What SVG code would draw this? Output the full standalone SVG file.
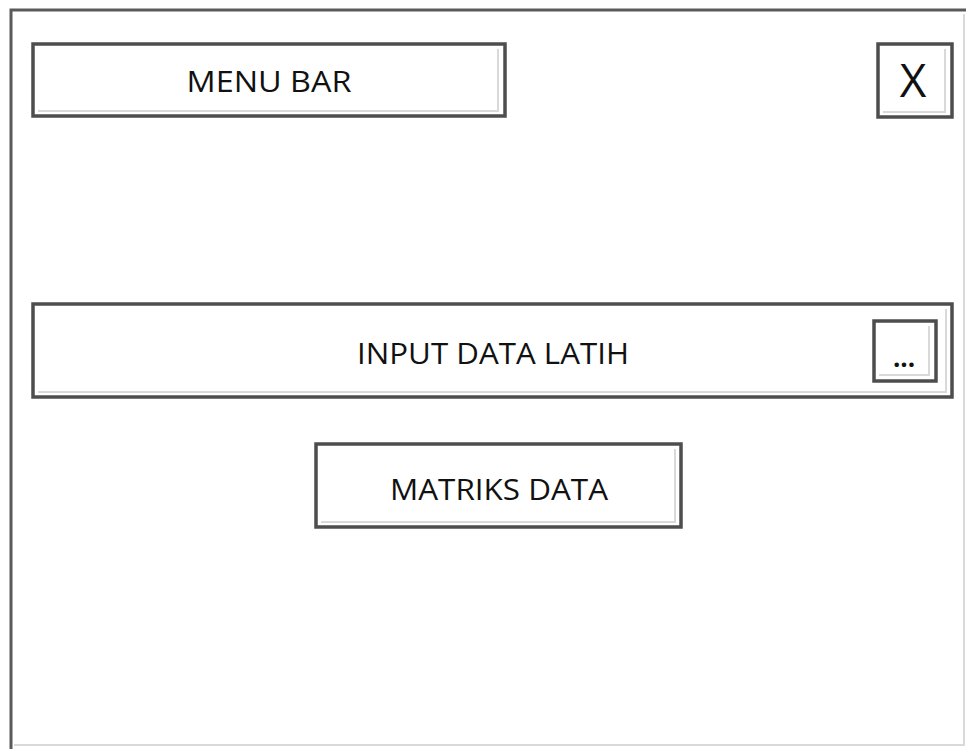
<svg xmlns="http://www.w3.org/2000/svg" width="966" height="749" viewBox="0 0 966 749">
<style>
.box{fill:#ffffff;stroke:#4d4d4d;stroke-width:3.5}
.bev{stroke:#d9d9d9;stroke-width:2;fill:none}
.lbl{font-family:"Open Sans","Liberation Sans",sans-serif;font-size:29px;fill:#111;text-anchor:middle}
</style>
<rect width="966" height="749" fill="#ffffff"/>
<g id="frame">
<path d="M11 749 V10 H966" fill="none" stroke="#5a5a5a" stroke-width="3"/>
<path d="M964 14 V745 H14" class="bev"/>
</g>
<g id="menu-bar">
<rect class="box" x="33" y="44" width="472" height="72"/>
<path class="bev" d="M498 49 V111 H38"/>
<text class="lbl" x="269" y="92" textLength="165" lengthAdjust="spacingAndGlyphs">MENU BAR</text>
</g>
<g id="close-btn">
<rect class="box" x="878" y="44" width="74" height="73"/>
<path class="bev" d="M945 49 V112 H883"/>
<text class="lbl" x="913" y="97" font-size="46" style="font-size:46px">X</text>
</g>
<g id="input-data-latih">
<rect class="box" x="33" y="304" width="919" height="93"/>
<path class="bev" d="M946 309 V392 H38"/>
<text class="lbl" x="493" y="364" textLength="272" lengthAdjust="spacingAndGlyphs">INPUT DATA LATIH</text>
</g>
<g id="browse-btn">
<rect class="box" x="874" y="321" width="62" height="60"/>
<path class="bev" d="M929 326 V375 H879"/>
<text class="lbl" x="904" y="367" style="font-size:26px;font-weight:bold">...</text>
</g>
<g id="matriks-data">
<rect class="box" x="316" y="444" width="365" height="83"/>
<path class="bev" d="M675 449 V522 H321"/>
<text class="lbl" x="499" y="500" textLength="218" lengthAdjust="spacingAndGlyphs">MATRIKS DATA</text>
</g>
<g id="connectors"></g>
</svg>
